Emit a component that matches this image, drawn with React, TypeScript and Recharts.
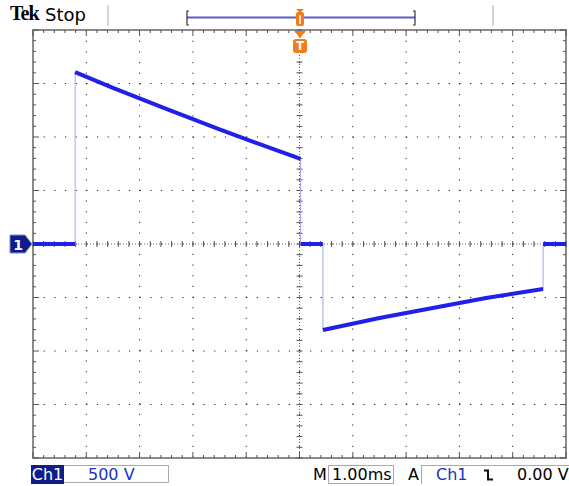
import React from 'react';
import { LineChart, Line, XAxis, YAxis, CartesianGrid, ReferenceLine, ReferenceArea } from 'recharts';

// time in ms (1.00 ms/div), amplitude in V (500 V/div)
const baseTime1 = [-5, -4.21];
const baseVolt1 = [0, 0];
const posTime = [-4.21, -3.5, -2.5, -1.5, -0.5, 0.02];
const posVolt = [1607, 1460, 1262, 1072, 888, 795];
const baseTime2 = [0.02, 0.44];
const baseVolt2 = [0, 0];
const negTime = [0.44, 1.5, 2.5, 3.5, 4.57];
const negVolt = [-804, -692, -598, -505, -421];
const baseTime3 = [4.57, 5];
const baseVolt3 = [0, 0];

const timeTicks = [-5, -4, -3, -2, -1, 0, 1, 2, 3, 4, 5];
const voltTicks = [-2000, -1500, -1000, -500, 0, 500, 1000, 1500, 2000];

const W = 569;
const H = 486;
const TRACE = '#2020e8';
const EDGE = '#a4a4f2';
const ORANGE = '#f07c1c';
const NAVY = '#101c8c';
const UI_FONT = '"DejaVu Sans", Verdana, sans-serif';

type Pt = { t: number; v: number | null };

const segments: [number[], number[]][] = [
  [baseTime1, baseVolt1],
  [posTime, posVolt],
  [baseTime2, baseVolt2],
  [negTime, negVolt],
  [baseTime3, baseVolt3],
];

const data: Pt[] = [];
segments.forEach(([ts, vs], si) => {
  if (si > 0) data.push({ t: ts[0], v: null });
  ts.forEach((t, i) => data.push({ t, v: vs[i] }));
});

// minor graticule marks, 5 per division
const minorT = Array.from({ length: 51 }, (_, i) => Math.round((-5 + i * 0.2) * 100) / 100);
const minorV = Array.from({ length: 41 }, (_, i) => -2000 + i * 100);
const isMajorT = (t: number) => Math.abs(t - Math.round(t)) < 1e-6;
const isMajorV = (v: number) => v % 500 === 0;

const tickT = 3 / 53.3; // 3px in ms
const tickV = 3 / 53.5 * 500; // 3px in V

const tickStyle = { stroke: '#555', strokeWidth: 1 };

export default function App() {
  const marks: React.ReactNode[] = [];
  minorT.forEach((t, i) => {
    const lv = isMajorT(t) ? tickV * 2 : tickV;
    marks.push(<ReferenceLine key={`tt${i}`} segment={[{ x: t, y: 2000 }, { x: t, y: 2000 - lv }]} {...tickStyle} />);
    marks.push(<ReferenceLine key={`tb${i}`} segment={[{ x: t, y: -2000 }, { x: t, y: -2000 + lv }]} {...tickStyle} />);
    marks.push(<ReferenceLine key={`tc${i}`} segment={[{ x: t, y: -tickV }, { x: t, y: tickV }]} {...tickStyle} />);
  });
  minorV.forEach((v, i) => {
    const lt = isMajorV(v) ? tickT * 2 : tickT;
    marks.push(<ReferenceLine key={`vl${i}`} segment={[{ x: -5, y: v }, { x: -5 + lt, y: v }]} {...tickStyle} />);
    marks.push(<ReferenceLine key={`vr${i}`} segment={[{ x: 5, y: v }, { x: 5 - lt, y: v }]} {...tickStyle} />);
    marks.push(<ReferenceLine key={`vc${i}`} segment={[{ x: -tickT, y: v }, { x: tickT, y: v }]} {...tickStyle} />);
  });

  return (
    <div style={{ position: 'absolute', left: 0, top: 0, width: W, height: H, background: '#fff', fontFamily: UI_FONT }}>
      <LineChart width={W} height={H} data={data} margin={{ top: 30, right: 3, bottom: 28, left: 33 }}>
        <XAxis dataKey="t" type="number" domain={[-5, 5]} ticks={timeTicks} hide allowDataOverflow />
        <YAxis type="number" domain={[-2000, 2000]} ticks={voltTicks} hide allowDataOverflow />
        <CartesianGrid stroke="#222" strokeDasharray="1.2 9.46" />
        <ReferenceLine x={0} stroke="#666" strokeDasharray="1 2" />
        <ReferenceLine y={0} stroke="#666" strokeDasharray="1 2" />
        {marks}
        <ReferenceArea x1={-5} x2={5} y1={-2000} y2={2000} fill="none" stroke="#8c8c8c" strokeWidth={2} />
        <Line
          dataKey="v"
          type="linear"
          stroke={EDGE}
          strokeWidth={1}
          dot={false}
          connectNulls
          isAnimationActive={false}
        />
        <Line
          dataKey="v"
          type="linear"
          stroke={TRACE}
          strokeWidth={4}
          strokeLinejoin="round"
          dot={false}
          connectNulls={false}
          isAnimationActive={false}
        />
      </LineChart>

      {/* header */}
      <div style={{ position: 'absolute', left: 10, top: 2, fontFamily: '"Liberation Serif", serif', fontWeight: 700, fontSize: 20, letterSpacing: -1 }}>Tek</div>
      <div style={{ position: 'absolute', left: 45, top: 4, fontSize: 18 }}>Stop</div>
      <svg style={{ position: 'absolute', left: 0, top: 0 }} width={W} height={60}>
        <line x1={108} y1={5} x2={108} y2={26} stroke="#c8c8c8" strokeWidth={1.5} />
        <line x1={493} y1={5} x2={493} y2={26} stroke="#c8c8c8" strokeWidth={1.5} />
        <line x1={187} y1={17.5} x2={415} y2={17.5} stroke="#5c5cc8" strokeWidth={2} />
        <path d="M189,11 H187 V25 H189" fill="none" stroke="#333" strokeWidth={1.2} />
        <path d="M413,11 H415 V25 H413" fill="none" stroke="#333" strokeWidth={1.2} />
        {/* header trigger position marker */}
        <path d="M296,9 H304 L300,13 Z" fill={ORANGE} />
        <rect x={296} y={12} width={8} height={14} rx={2} fill={ORANGE} />
        <line x1={300} y1={15} x2={300} y2={24} stroke="#fff" strokeWidth={1.5} />
        {/* trigger marker */}
        <path d="M294,31 H306 L300,38 Z" fill={ORANGE} />
        <rect x={293} y={39} width={14} height={14} rx={3} fill={ORANGE} />
        <text x={300} y={50} textAnchor="middle" fill="#fff" fontSize={12} fontWeight={700} fontFamily={UI_FONT}>T</text>
      </svg>

      {/* channel ground marker */}
      <svg style={{ position: 'absolute', left: 0, top: 230 }} width={34} height={28}>
        <path d="M10,5 H25 L32,14 L25,23 H10 Z" fill={NAVY} stroke="#8a8ac8" strokeWidth={1} />
        <text x={18} y={19.5} textAnchor="middle" fill="#fff" fontSize={14} fontWeight={700} fontFamily={UI_FONT}>1</text>
      </svg>

      {/* footer */}
      <div style={{ position: 'absolute', left: 31, top: 465, width: 33, height: 19, background: NAVY, color: '#fff', fontSize: 16, lineHeight: '19px', textAlign: 'center' }}>Ch1</div>
      <div style={{ position: 'absolute', left: 64, top: 465, width: 105, height: 18, border: '1px solid #aaa', borderLeft: 'none', color: '#1a34c0', fontSize: 16, lineHeight: '18px', paddingLeft: 24, boxSizing: 'border-box' }}>500 V</div>
      <div style={{ position: 'absolute', left: 313, top: 465, fontSize: 16, lineHeight: '19px' }}>M</div>
      <div style={{ position: 'absolute', left: 328, top: 465, width: 66, height: 19, border: '1px solid #aaa', fontSize: 16, lineHeight: '17px', paddingLeft: 3, boxSizing: 'border-box' }}>1.00ms</div>
      <div style={{ position: 'absolute', left: 408, top: 465, fontSize: 16, lineHeight: '19px' }}>A</div>
      <div style={{ position: 'absolute', left: 421, top: 465, width: 148, height: 19, borderTop: '1px solid #aaa', borderLeft: '1px solid #aaa', boxSizing: 'border-box' }} />
      <div style={{ position: 'absolute', left: 436, top: 465, fontSize: 16, lineHeight: '19px', color: '#1a34c0' }}>Ch1</div>
      <svg style={{ position: 'absolute', left: 483, top: 468 }} width={12} height={14}>
        <path d="M1,2.5 H5 V11.5 H10" fill="none" stroke="#111" strokeWidth={2} />
      </svg>
      <div style={{ position: 'absolute', left: 517, top: 465, fontSize: 16, lineHeight: '19px', whiteSpace: 'nowrap' }}>0.00 V</div>
    </div>
  );
}
